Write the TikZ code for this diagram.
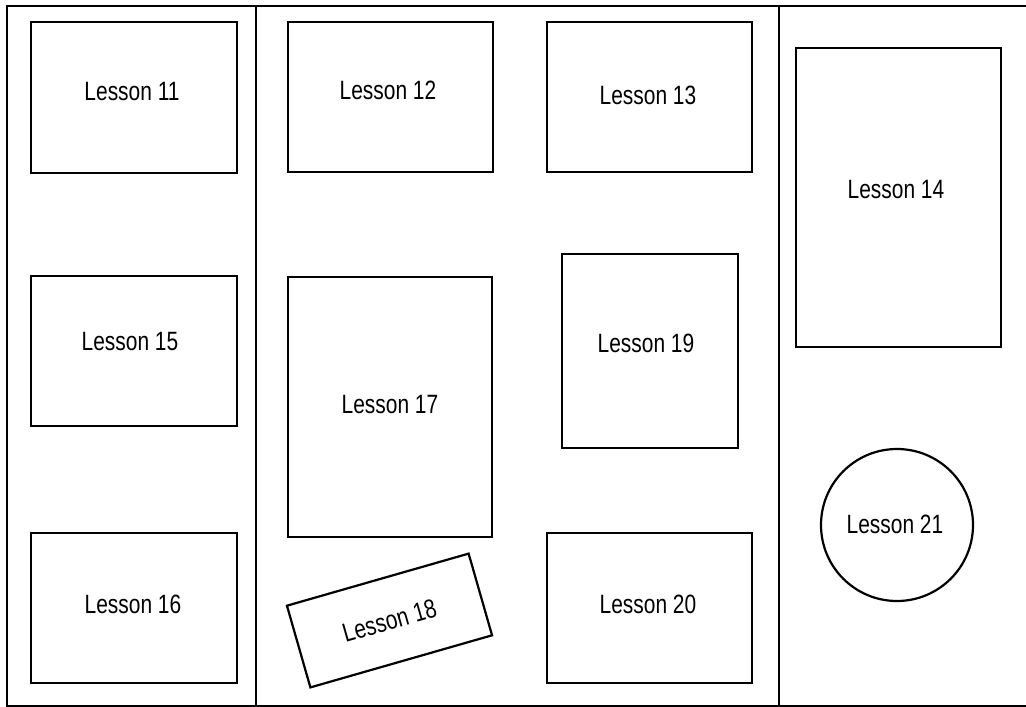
\documentclass[tikz,border=0pt]{standalone}
\usepackage{fontspec}
\setmainfont{Liberation Sans}
\newcommand\lsntxt[1]{\scalebox{0.79}[1]{#1}}
\begin{document}
\begin{tikzpicture}[x=1pt,y=-1pt,
  lbox/.style={draw=black, line width=2.2pt, rectangle, inner sep=0pt},
  lbl/.style={font=\fontsize{26.5}{30}\selectfont, inner sep=0pt, anchor=base},
  frame/.style={draw=black, line width=2pt}]
\useasboundingbox (0,0) rectangle (1026,707);
\clip (0,0) rectangle (1026,707);
\fill[white] (0,0) rectangle (1026,707);
% frame and dividers
\draw[frame] (7,6) rectangle (1040,706);
\coordinate (d1t) at (256,6);
\coordinate (d1b) at (256,706);
\coordinate (d2t) at (779,6);
\coordinate (d2b) at (779,706);
\draw[frame] (d1t) -- (d1b);
\draw[frame] (d2t) -- (d2b);
% boxes
\node[lbox, minimum width=206pt, minimum height=151pt] (b11) at (134,97.5) {};
\node[lbox, minimum width=205pt, minimum height=150pt] (b12) at (390.5,97) {};
\node[lbox, minimum width=205pt, minimum height=150pt] (b13) at (649.5,97) {};
\node[lbox, minimum width=205pt, minimum height=299pt] (b14) at (898.5,197.5) {};
\node[lbox, minimum width=206pt, minimum height=150pt] (b15) at (134,351) {};
\node[lbox, minimum width=206pt, minimum height=150pt] (b16) at (134,608) {};
\node[lbox, minimum width=204pt, minimum height=260pt] (b17) at (390,407) {};
\node[lbox, minimum width=176pt, minimum height=194pt] (b19) at (650,351) {};
\node[lbox, minimum width=205pt, minimum height=150pt] (b20) at (649.5,608) {};
\node[lbox, circle, minimum size=152pt] (b21) at (897,525) {};
\node[lbox, minimum width=189pt, minimum height=85pt, rotate=16,
      font=\fontsize{26.5}{30}\selectfont] (b18) at (389.5,620.5) {\lsntxt{Lesson 18}};
% labels
\node[lbl] (t11) at (132,100) {\lsntxt{Lesson 11}};
\node[lbl] (t12) at (388,99.5) {\lsntxt{Lesson 12}};
\node[lbl] (t13) at (648,104.5) {\lsntxt{Lesson 13}};
\node[lbl] (t14) at (896,198.5) {\lsntxt{Lesson 14}};
\node[lbl] (t15) at (130,350.5) {\lsntxt{Lesson 15}};
\node[lbl] (t16) at (133,613) {\lsntxt{Lesson 16}};
\node[lbl] (t17) at (390,413) {\lsntxt{Lesson 17}};
\node[lbl] (t19) at (646,352) {\lsntxt{Lesson 19}};
\node[lbl] (t20) at (648,613) {\lsntxt{Lesson 20}};
\node[lbl] (t21) at (895,533) {\lsntxt{Lesson 21}};
\end{tikzpicture}
\end{document}
